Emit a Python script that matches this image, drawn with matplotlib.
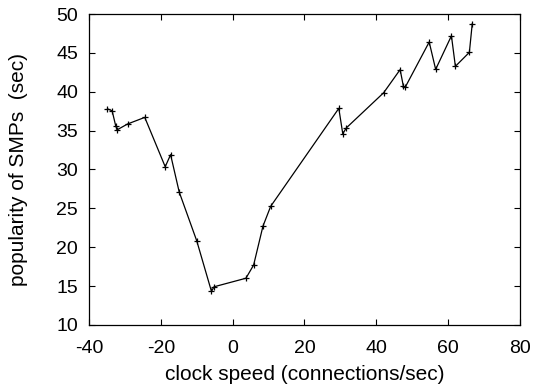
import matplotlib
matplotlib.use("Agg")
import matplotlib.pyplot as plt

# values
clock_speed = [-34.9, -33.6, -32.6, -32.2, -29.3, -24.5, -18.8, -17.3, -14.9,
               -10.0, -5.9, -5.2, 3.7, 5.85, 8.45, 10.6, 29.6, 30.7, 31.7,
               42.1, 46.7, 47.6, 48.1, 54.8, 56.6, 61.0, 62.1, 66.0, 66.8]
popularity = [37.8, 37.55, 35.6, 35.1, 35.85, 36.7, 30.35, 31.9, 27.1,
              20.8, 14.3, 14.9, 16.0, 17.7, 22.7, 25.25, 37.86, 34.6, 35.35,
              39.87, 42.85, 40.7, 40.57, 46.4, 42.88, 47.2, 43.27, 45.07, 48.75]

plt.rcParams['font.family'] = ['Liberation Sans', 'DejaVu Sans']
plt.rcParams['axes.unicode_minus'] = False

fig = plt.figure(figsize=(5.34, 3.9), dpi=100)
ax = fig.add_axes([0.167, 0.167, 0.806, 0.797])

ax.plot(clock_speed, popularity, color='black', linewidth=0.9,
        marker='+', markersize=5, markeredgewidth=0.9)

ax.set_xlim(-40, 80)
ax.set_ylim(10, 50)
ax.set_xticks(range(-40, 81, 20))
ax.set_yticks(range(10, 51, 5))
ax.tick_params(direction='in', top=True, right=True, length=4, width=0.8,
               labelsize=14)
ax.tick_params(axis='x', pad=11)
ax.tick_params(axis='y', pad=8)
for s in ax.spines.values():
    s.set_linewidth(0.9)

ax.set_xlabel('clock speed (connections/sec)', fontsize=15, labelpad=6)
ax.set_ylabel('popularity of SMPs  (sec)', fontsize=15, labelpad=20)

fig.savefig('out.png', dpi=100)
